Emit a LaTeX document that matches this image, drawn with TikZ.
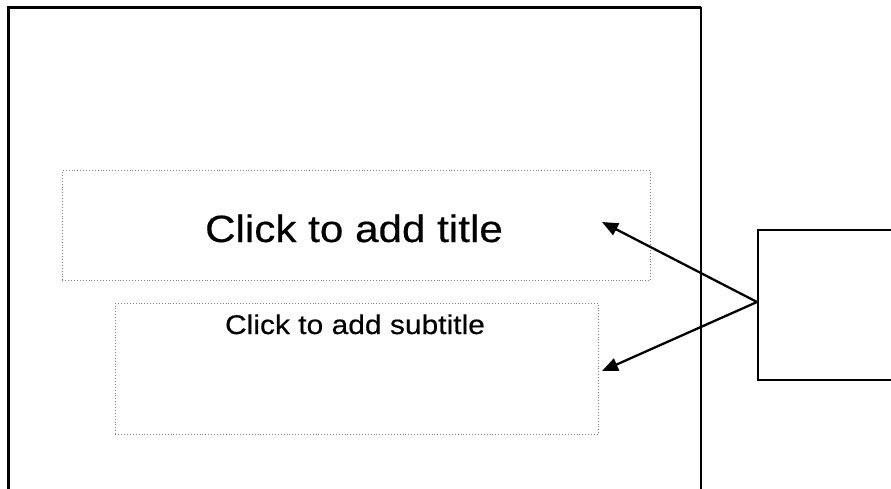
\documentclass[tikz,border=0pt]{standalone}
\usepackage{fontspec}
\setmainfont{Liberation Sans}
\newfontfamily\slidefont[FakeStretch=1.11,FakeBold=0.4]{Liberation Sans}
\usetikzlibrary{arrows.meta}
\begin{document}
\begin{tikzpicture}[x=1pt,y=-1pt,
  placeholder/.style={draw=black!50,dotted,line width=0.9pt,inner sep=0pt},
  callout/.style={draw=black,line width=1.8pt,inner sep=0pt},
  pointer/.style={line width=2.3pt,-{Triangle[length=16pt,width=13pt]}}]
\useasboundingbox (0,0) rectangle (891,488);
\clip (0,0) rectangle (891,488);
% slide
\draw[line width=1.1pt] (9,8) rectangle (701,520);
\draw[line width=3pt] (8.5,520) -- (8.5,7.5) -- (701,7.5);
% placeholders
\node[placeholder,minimum width=588pt,minimum height=110pt,anchor=north west] (title) at (62,170) {};
\node[font=\slidefont\fontsize{38}{44}\selectfont,anchor=base] (titletext) at (354,242) {Click to add title};
\node[placeholder,minimum width=483pt,minimum height=131pt,anchor=north west] (sub) at (115,303) {};
\node[font=\slidefont\fontsize{27}{32}\selectfont,anchor=base] (subtext) at (355,334) {Click to add subtitle};
% callout box
\node[callout,minimum width=160pt,minimum height=150pt,anchor=north west] (box) at (757,229) {};
\coordinate (src) at (757,302);
\coordinate (t1) at (602,222);
\coordinate (t2) at (602,371);
\draw[pointer] (src) -- (t1);
\draw[pointer] (src) -- (t2);
\end{tikzpicture}
\end{document}
